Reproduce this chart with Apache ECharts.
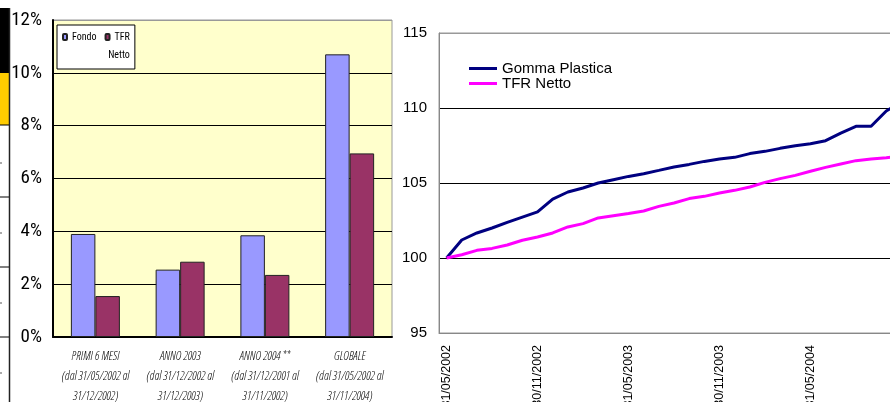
<!DOCTYPE html>
<html>
<head>
<meta charset="utf-8">
<script src="https://cdn.jsdelivr.net/npm/echarts@6/dist/echarts.min.js"></script>
<style>
html,body{margin:0;padding:0;background:#fff;overflow:hidden;width:890px;height:402px;}
#c{width:920px;height:402px;}
</style>
</head>
<body>
<div id="c"></div>
<script>
// ---- Bar chart data ----
const barCategories = [
  'PRIMI 6 MESI\n(dal 31/05/2002 al\n31/12/2002)',
  'ANNO 2003\n(dal 31/12/2002 al\n31/12/2003)',
  'ANNO 2004 **\n(dal 31/12/2001 al\n31/11/2002)',
  'GLOBALE\n(dal 31/05/2002 al\n31/11/2004)'
];
const fondoValues = [3.9, 2.55, 3.85, 10.7];
const tfrBarValues = [1.55, 2.85, 2.35, 6.95];

// ---- Line chart data ----
const dates = [
  '31/05/2002','30/06/2002','31/07/2002','31/08/2002','30/09/2002','31/10/2002','30/11/2002','31/12/2002',
  '31/01/2003','28/02/2003','31/03/2003','30/04/2003','31/05/2003','30/06/2003','31/07/2003','31/08/2003',
  '30/09/2003','31/10/2003','30/11/2003','31/12/2003',
  '31/01/2004','29/02/2004','31/03/2004','30/04/2004','31/05/2004','30/06/2004','31/07/2004','31/08/2004',
  '30/09/2004','31/10/2004','30/11/2004'
];
const gommaValues = [100, 101.2, 101.67, 102.0, 102.38, 102.73, 103.07, 103.93, 104.4, 104.67, 105.0,
  105.22, 105.44, 105.62, 105.84, 106.07, 106.24, 106.44, 106.6, 106.71, 106.96, 107.11, 107.31,
  107.49, 107.62, 107.82, 108.33, 108.78, 108.78, 109.8, 110.4];
const tfrLineValues = [100, 100.22, 100.51, 100.64, 100.87, 101.18, 101.4, 101.67, 102.07, 102.29,
  102.67, 102.82, 102.96, 103.13, 103.44, 103.67, 103.96, 104.11, 104.33, 104.51, 104.73, 105.04,
  105.29, 105.51, 105.78, 106.04, 106.27, 106.49, 106.6, 106.69, 106.8];

const COND = '"Roboto Condensed", "Liberation Sans", Arial, sans-serif';
const COND_LIGHT = '"Open Sans Condensed Light", "Roboto Condensed", Arial, sans-serif';
const SANS = '"Liberation Sans", Arial, sans-serif';

const chart = echarts.init(document.getElementById('c'), null, {renderer: 'canvas'});

const option = {
  animation: false,
  backgroundColor: '#fff',
  grid: [
    {left: 53, top: 20, width: 339, height: 317, show: true, backgroundColor: '#FFFFCC',
     borderColor: '#999', borderWidth: 1, outerBoundsMode: 'none', containLabel: false},
    {left: 439, top: 33, width: 470, height: 300, show: true, backgroundColor: '#fff',
     borderColor: '#999', borderWidth: 1, outerBoundsMode: 'none', containLabel: false}
  ],
  legend: [
    {
      data: ['Fondo', 'TFR Netto'],
      left: 57, top: 25,
      orient: 'horizontal',
      padding: [6, 5, 26, 5],
      itemGap: 8,
      itemWidth: 4, itemHeight: 6,
      backgroundColor: '#fff',
      borderColor: '#000', borderWidth: 1,
      textStyle: {fontFamily: COND, fontSize: 10, color: '#000', lineHeight: 12},
      formatter: function (n) { return n === 'TFR Netto' ? 'TFR' : n; }
    },
    {
      data: ['Gomma Plastica', 'TFR Netto '],
      left: 469, top: 61,
      orient: 'vertical',
      padding: 0,
      itemGap: 0,
      icon: 'rect',
      itemWidth: 28, itemHeight: 3,
      textStyle: {fontFamily: SANS, fontSize: 15, color: '#000', lineHeight: 14},
      formatter: function (n) { return n.trim(); }
    }
  ],
  xAxis: [
    {
      type: 'category', gridIndex: 0, data: barCategories,
      axisLine: {show: true, lineStyle: {color: '#000', width: 2}},
      axisTick: {show: false},
      axisLabel: {interval: 0, margin: 10, color: '#000', fontFamily: COND_LIGHT, fontStyle: 'italic',
                  fontSize: 12, lineHeight: 20}
    },
    {
      type: 'category', gridIndex: 1, data: dates, boundaryGap: true,
      axisLine: {show: true, lineStyle: {color: '#888', width: 1}},
      axisTick: {show: false},
      axisLabel: {interval: 5, rotate: 90, margin: 12, color: '#000', fontFamily: SANS, fontSize: 12.5}
    }
  ],
  yAxis: [
    {
      type: 'value', gridIndex: 0, min: 0, max: 12, interval: 2,
      axisLine: {show: true, lineStyle: {color: '#000', width: 2}},
      axisTick: {show: false},
      axisLabel: {formatter: '{value}%', margin: 11, color: '#000', fontFamily: COND, fontSize: 19},
      splitLine: {show: true, lineStyle: {color: ['#000','#000','#000','#000','#000','#000','#999'], width: 1}}
    },
    {
      type: 'value', gridIndex: 1, min: 95, max: 115, interval: 5,
      axisLine: {show: true, lineStyle: {color: '#888', width: 1}},
      axisTick: {show: false},
      axisLabel: {margin: 12, color: '#000', fontFamily: SANS, fontSize: 15},
      splitLine: {show: true, lineStyle: {color: ['#888','#000','#000','#000','#999'], width: 1}}
    }
  ],
  series: [
    {
      name: 'Fondo', type: 'bar', xAxisIndex: 0, yAxisIndex: 0, data: fondoValues,
      barWidth: 24.5, barGap: '0%',
      itemStyle: {color: '#9999FF', borderColor: '#222', borderWidth: 1}
    },
    {
      name: 'TFR Netto', type: 'bar', xAxisIndex: 0, yAxisIndex: 0, data: tfrBarValues,
      barWidth: 24.5, barGap: '0%',
      itemStyle: {color: '#993366', borderColor: '#222', borderWidth: 1}
    },
    {
      name: 'Gomma Plastica', type: 'line', xAxisIndex: 1, yAxisIndex: 1, data: gommaValues,
      symbol: 'none', lineStyle: {color: '#000080', width: 3}, itemStyle: {color: '#000080'}
    },
    {
      name: 'TFR Netto ', type: 'line', xAxisIndex: 1, yAxisIndex: 1, data: tfrLineValues,
      symbol: 'none', lineStyle: {color: '#FF00FF', width: 3}, itemStyle: {color: '#FF00FF'}
    }
  ],
  graphic: [
    // cropped table strip at the far left
    {type: 'rect', z: 100, shape: {x: 0, y: 8, width: 9, height: 65}, style: {fill: '#000'}},
    {type: 'rect', z: 100, shape: {x: 0, y: 73, width: 9, height: 52}, style: {fill: '#FFCC00'}},
    {type: 'line', z: 100, shape: {x1: 0, y1: 125, x2: 9, y2: 125}, style: {stroke: '#000', lineWidth: 1}},
    {type: 'line', z: 100, shape: {x1: 0, y1: 197, x2: 9, y2: 197}, style: {stroke: '#000', lineWidth: 1}},
    {type: 'line', z: 100, shape: {x1: 0, y1: 267, x2: 9, y2: 267}, style: {stroke: '#000', lineWidth: 1}},
    {type: 'line', z: 100, shape: {x1: 0, y1: 337, x2: 9, y2: 337}, style: {stroke: '#000', lineWidth: 1}},
    {type: 'line', z: 100, shape: {x1: 0, y1: 163, x2: 2, y2: 163}, style: {stroke: '#aaa', lineWidth: 2}},
    {type: 'line', z: 100, shape: {x1: 0, y1: 233, x2: 2, y2: 233}, style: {stroke: '#aaa', lineWidth: 2}},
    {type: 'line', z: 100, shape: {x1: 0, y1: 303, x2: 2, y2: 303}, style: {stroke: '#aaa', lineWidth: 2}},
    {type: 'line', z: 100, shape: {x1: 0, y1: 373, x2: 2, y2: 373}, style: {stroke: '#aaa', lineWidth: 2}},
    {type: 'line', z: 100, shape: {x1: 9.5, y1: 8, x2: 9.5, y2: 402}, style: {stroke: '#222', lineWidth: 1.5}},
    // second line of the bar-chart legend entry "TFR Netto"
    {type: 'text', z: 100, style: {text: 'Netto', x: 119, y: 55, textAlign: 'center', textVerticalAlign: 'middle',
      font: '10px ' + COND, fill: '#000'}}
  ]
};
chart.setOption(option);
</script>
</body>
</html>
